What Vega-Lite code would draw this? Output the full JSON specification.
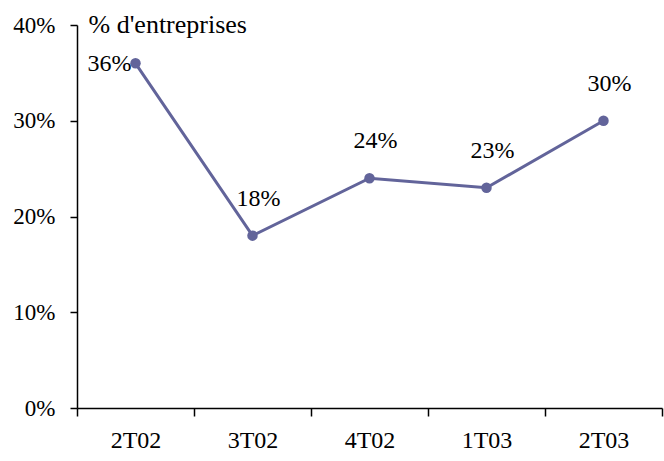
{
  "$schema": "https://vega.github.io/schema/vega-lite/v6.json",
  "width": 585,
  "height": 383,
  "autosize": {"type": "none"},
  "padding": {"left": 77, "top": 25, "right": 2, "bottom": 53},
  "background": "white",
  "config": {
    "view": {"stroke": null},
    "font": "Liberation Serif",
    "axis": {"labelFont": "Liberation Serif", "titleFont": "Liberation Serif", "labelColor": "black", "titleColor": "black", "domainColor": "black", "tickColor": "black", "domainWidth": 1.5, "tickWidth": 1.5, "grid": false}
  },
  "data": {"values": [
    {"q": "2T02", "v": 0.36, "lab": "36%", "first": true},
    {"q": "3T02", "v": 0.18, "lab": "18%", "first": false},
    {"q": "4T02", "v": 0.24, "lab": "24%", "first": false},
    {"q": "1T03", "v": 0.23, "lab": "23%", "first": false},
    {"q": "2T03", "v": 0.30, "lab": "30%", "first": false}
  ]},
  "encoding": {
    "x": {"field": "q", "type": "ordinal", "sort": null,
      "scale": {"type": "band", "paddingInner": 0, "paddingOuter": 0},
      "axis": {"title": null, "labelAngle": 0, "labelFontSize": 24, "tickBand": "extent", "tickSize": 8, "labelPadding": 12}},
    "y": {"field": "v", "type": "quantitative",
      "scale": {"domain": [0, 0.4], "nice": false},
      "axis": {"values": [0, 0.1, 0.2, 0.3, 0.4], "format": ".0%", "labelFontSize": 23, "tickSize": 7, "labelPadding": 15,
        "title": "% d'entreprises", "titleAngle": 0, "titleAlign": "left", "titleBaseline": "alphabetic", "titleX": 11, "titleY": 7, "titleFontSize": 26, "titleFontWeight": "normal"}}
  },
  "layer": [
    {"mark": {"type": "line", "color": "#62649a", "strokeWidth": 3}},
    {"mark": {"type": "point", "filled": true, "color": "#62649a", "size": 110, "opacity": 1}},
    {"transform": [{"filter": "datum.first"}],
     "mark": {"type": "text", "font": "Liberation Serif", "fontSize": 24, "align": "right", "baseline": "middle", "dx": -4, "dy": 1, "color": "black"},
     "encoding": {"text": {"field": "lab"}}},
    {"transform": [{"filter": "!datum.first"}],
     "mark": {"type": "text", "font": "Liberation Serif", "fontSize": 24, "align": "center", "baseline": "middle", "dx": 6, "dy": -37, "color": "black"},
     "encoding": {"text": {"field": "lab"}}}
  ]
}
